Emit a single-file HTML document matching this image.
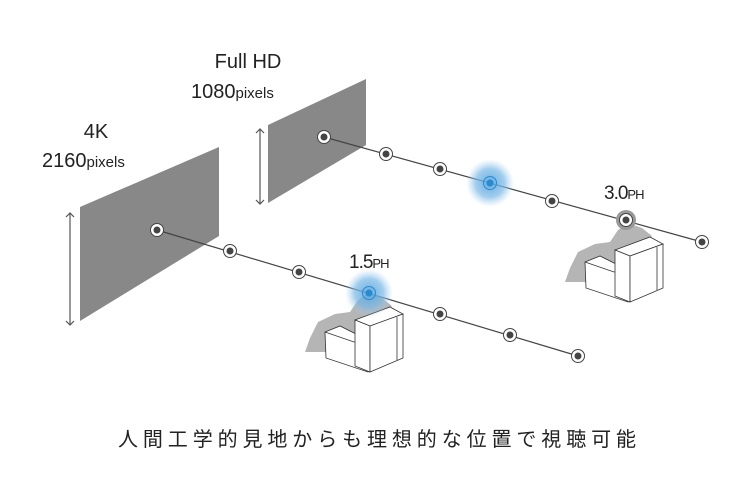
<!DOCTYPE html>
<html><head><meta charset="utf-8"><style>
html,body{margin:0;padding:0;background:#fff;}
svg{display:block;}
text{font-family:"Liberation Sans","Noto Sans CJK JP",sans-serif;fill:#222;}
</style></head><body>
<svg width="740" height="496" viewBox="0 0 740 496" xmlns="http://www.w3.org/2000/svg">
<defs>
<radialGradient id="glow"><stop offset="0" stop-color="#5aa7e0" stop-opacity="0.95"/><stop offset="0.6" stop-color="#7ab8e6" stop-opacity="0.7"/><stop offset="1" stop-color="#a8d0f0" stop-opacity="0"/></radialGradient>
<marker id="ah" viewBox="0 0 10 10" refX="5" refY="5" markerWidth="10" markerHeight="10" orient="auto-start-reverse" markerUnits="userSpaceOnUse"><path d="M1,1 L5,5 L1,9" fill="none" stroke="#555" stroke-width="1.2"/></marker>
<g id="chair">
<polygon points="305,352 310,338 318,322 335,314 350,312 358,300 368,293 382,298 392,306 372,324 360,345 330,352" fill="#b5b5b5"/>
<polygon points="325,332 340,326 368,340 368,372 326,358" fill="#fff" stroke="#333" stroke-width="0.8"/>
<polyline points="325,332 354,342 368,340" fill="none" stroke="#333" stroke-width="0.8"/>
<polygon points="355,320 390,307 403,314 370,326" fill="#fff" stroke="#333" stroke-width="0.8"/>
<polygon points="355,320 370,326 370,372 355,366" fill="#fff" stroke="#333" stroke-width="0.8"/>
<polygon points="370,326 403,314 403,358 370,372" fill="#fff" stroke="#333" stroke-width="0.8"/>
<line x1="397" y1="317" x2="397" y2="360" stroke="#333" stroke-width="0.8"/>
</g>
<g id="dot"><circle r="6.5" fill="#fff" stroke="#444" stroke-width="1"/><circle r="3.5" fill="#444"/></g>
</defs>

<text x="248" y="68" font-size="20" text-anchor="middle">Full HD</text>
<text x="191" y="98" font-size="20">1080<tspan font-size="15">pixels</tspan></text>
<text x="96" y="138" font-size="20" text-anchor="middle">4K</text>
<text x="42" y="167" font-size="20">2160<tspan font-size="15">pixels</tspan></text>

<polygon points="268,125 366,79 366,145 268,203" fill="#888"/>
<polygon points="80,207 219,147 219,236 80,321" fill="#888"/>
<line x1="260" y1="129" x2="260" y2="204" stroke="#555" stroke-width="1.2" marker-start="url(#ah)" marker-end="url(#ah)"/>
<line x1="70" y1="213" x2="70" y2="325" stroke="#555" stroke-width="1.2" marker-start="url(#ah)" marker-end="url(#ah)"/>

<use href="#chair"/>
<g transform="translate(260,-70)"><use href="#chair"/></g>

<line x1="324" y1="137" x2="702" y2="242" stroke="#444" stroke-width="1.2"/>
<line x1="157" y1="230" x2="578" y2="356" stroke="#444" stroke-width="1.2"/>

<circle cx="490" cy="183" r="24" fill="url(#glow)"/>
<circle cx="369" cy="293" r="24" fill="url(#glow)"/>
<circle cx="626" cy="220" r="10" fill="#999"/>

<use href="#dot" x="324" y="137"/>
<use href="#dot" x="386" y="154"/>
<use href="#dot" x="440" y="169"/>
<use href="#dot" x="552" y="201"/>
<use href="#dot" x="626" y="220"/>
<use href="#dot" x="702" y="242"/>
<use href="#dot" x="157" y="230"/>
<use href="#dot" x="230" y="251"/>
<use href="#dot" x="299" y="272"/>
<use href="#dot" x="440" y="314"/>
<use href="#dot" x="510" y="335"/>
<use href="#dot" x="578" y="356"/>
<circle cx="490" cy="183" r="6.5" fill="none" stroke="#2a8ad0" stroke-width="1"/><circle cx="490" cy="183" r="3.5" fill="#2a8ad0"/>
<circle cx="369" cy="293" r="6.5" fill="none" stroke="#2a8ad0" stroke-width="1"/><circle cx="369" cy="293" r="3.5" fill="#2a8ad0"/>

<text x="349" y="268" font-size="19" letter-spacing="-1">1.5<tspan font-size="13">PH</tspan></text>
<text x="604" y="199" font-size="19" letter-spacing="-1">3.0<tspan font-size="13">PH</tspan></text>

<text x="118" y="446" font-size="20" textLength="518" lengthAdjust="spacing">人間工学的見地からも理想的な位置で視聴可能</text>
</svg>
</body></html>
